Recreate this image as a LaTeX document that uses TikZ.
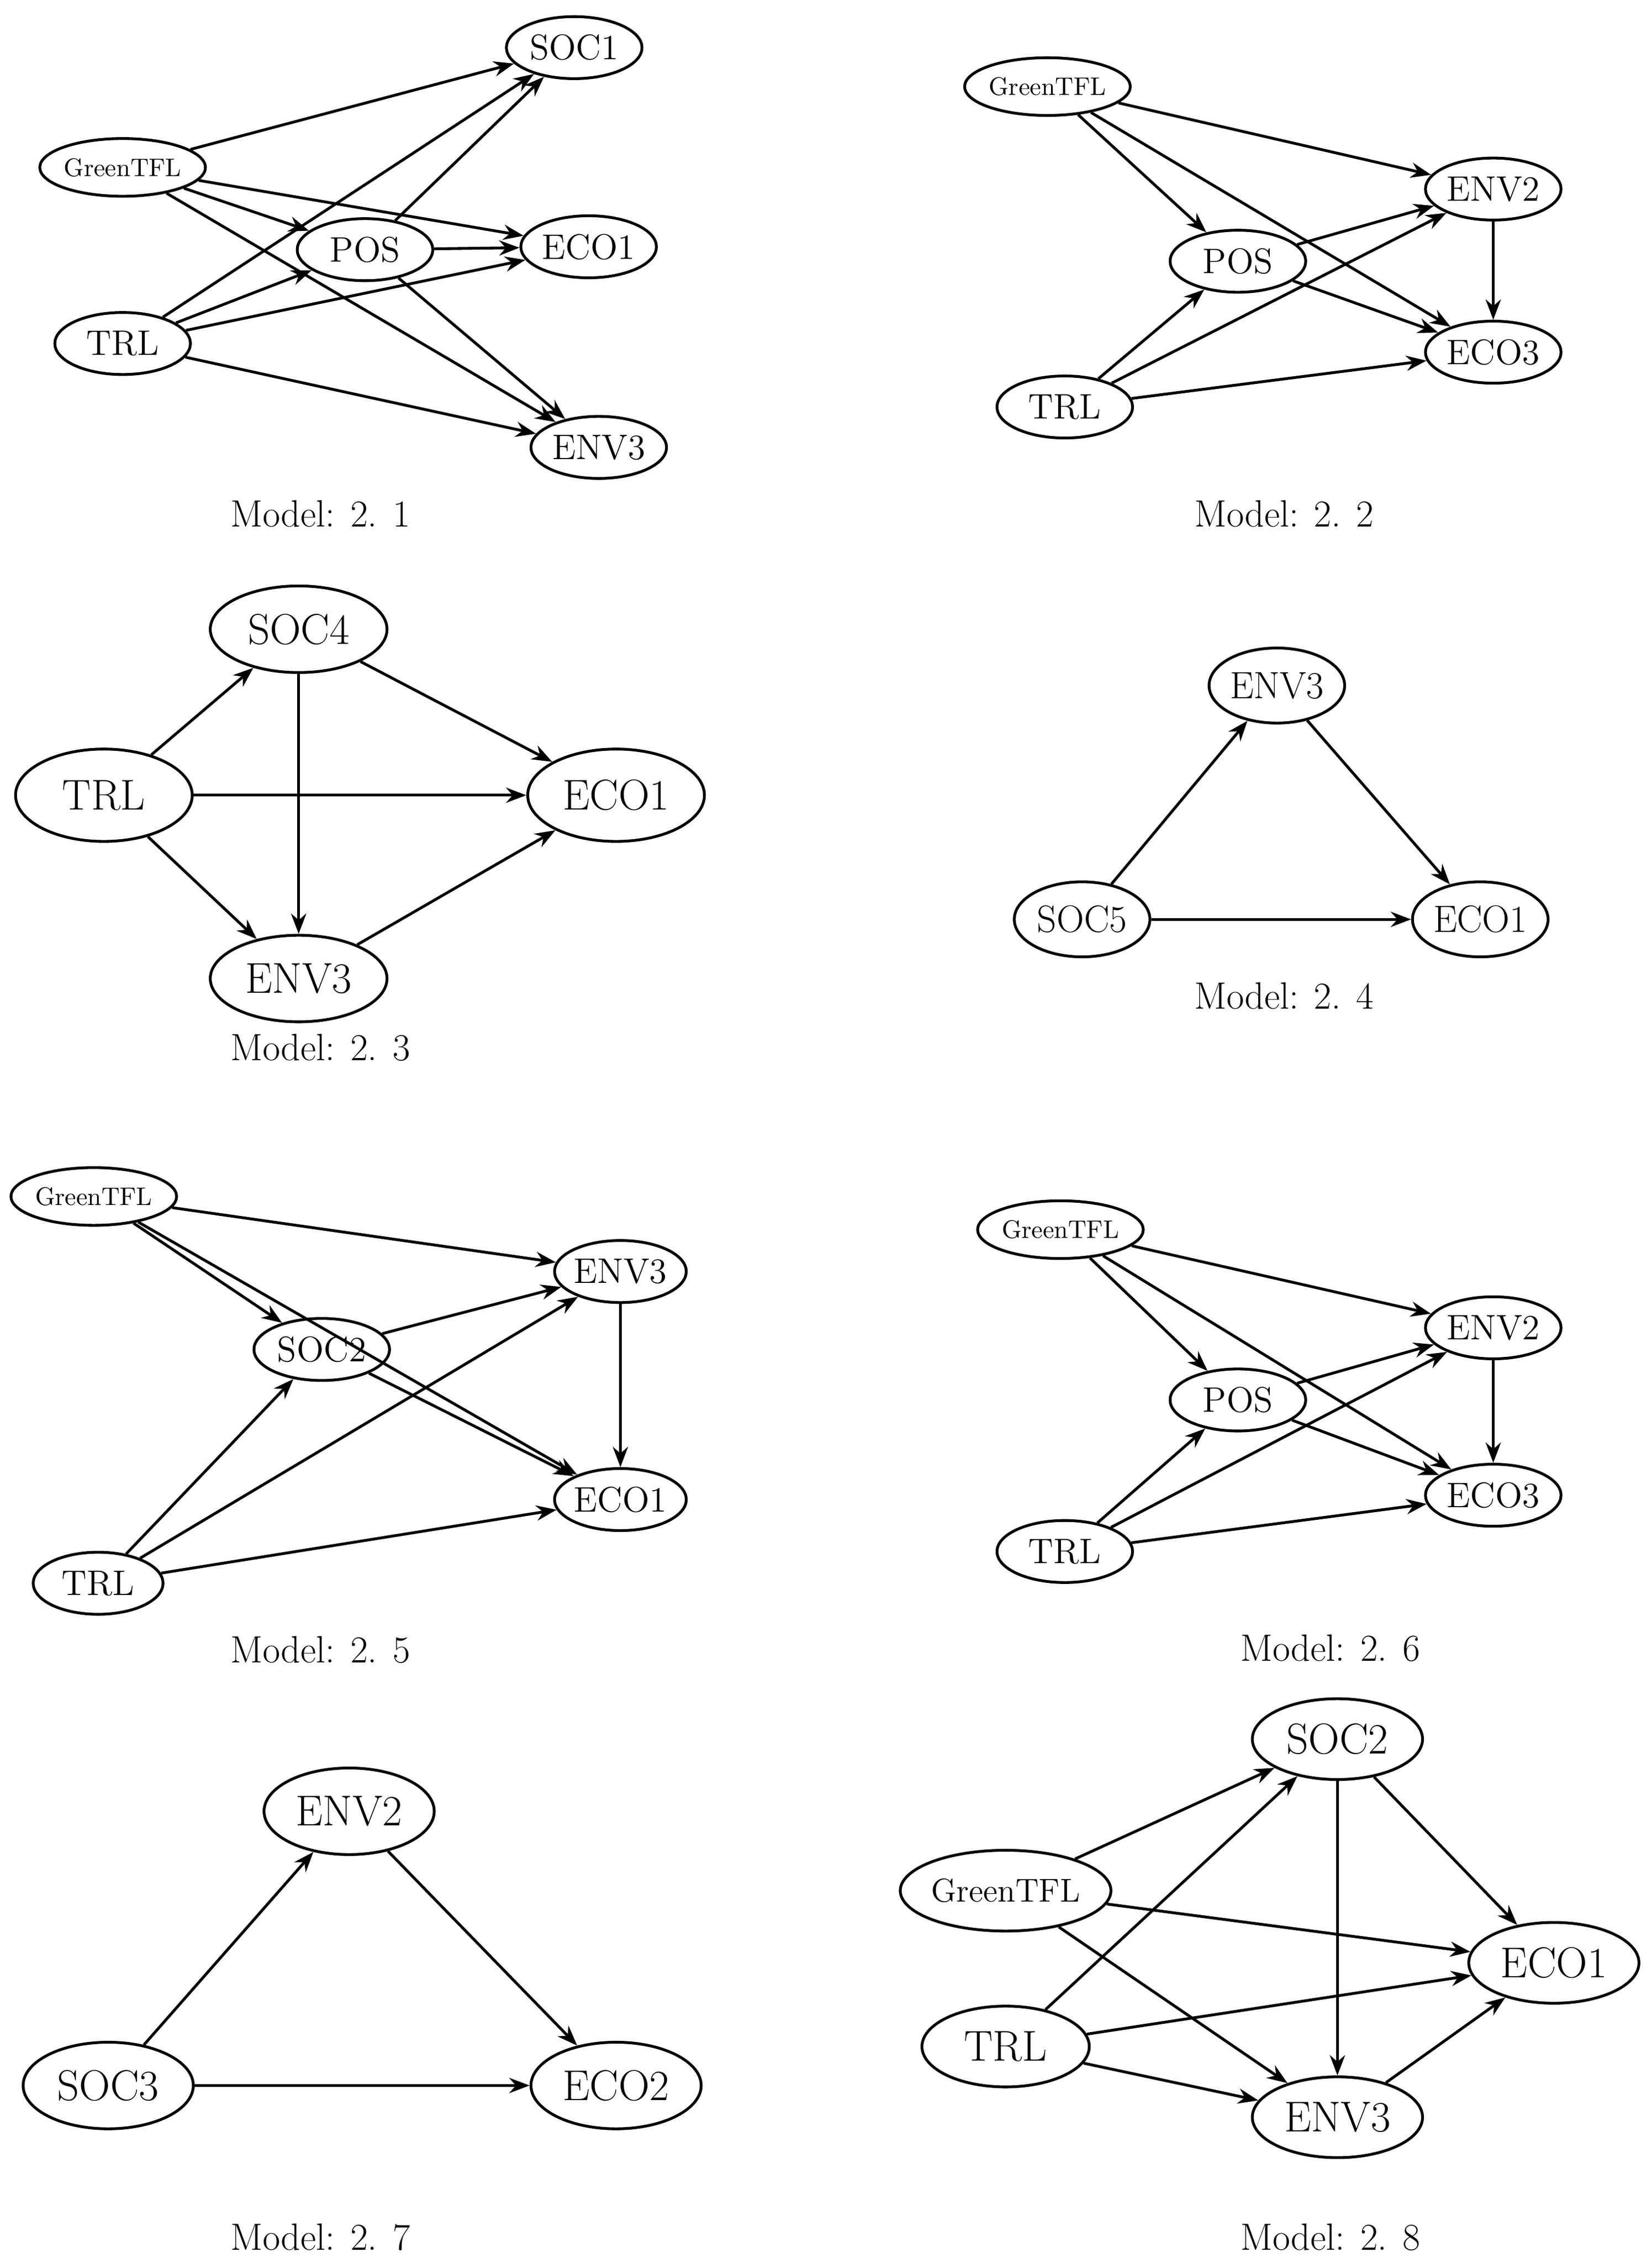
\documentclass[tikz,border=0pt]{standalone}
\usetikzlibrary{arrows.meta,shapes.geometric}
\begin{document}
\begin{tikzpicture}[
x=0.02cm,y=-0.02cm,
var/.style={ellipse,draw=black,line width=1.1pt,inner sep=0pt,minimum width=1.88cm,minimum height=0.86cm,font=\fontsize{14}{16}\selectfont},
green/.style={var,minimum width=1.8cm,minimum height=0.8cm,font=\fontsize{10}{12}\selectfont},
big/.style={var,minimum width=2.45cm,minimum height=1.2cm,font=\fontsize{17}{19}\selectfont},
caption/.style={font=\fontsize{15}{17}\selectfont},
path/.style={-{Stealth[length=8pt,width=6pt]},line width=1.1pt}
]
\useasboundingbox (0,0) rectangle (1145,1568);

% Model 2.1
\node [var] (soc1a) at (398,33) {SOC1};
\node [green] (grna) at (85,116) {GreenTFL};
\node [var] (posa) at (253,173) {POS};
\node [var] (eco1a) at (408,171) {ECO1};
\node [var] (trla) at (85,238) {TRL};
\node [var] (env3a) at (415,310) {ENV3};
\node [caption] (capa) at (222,356) {Model: 2. 1};
\foreach \s/\t in {grna/soc1a,grna/eco1a,grna/posa,grna/env3a,trla/soc1a,trla/posa,trla/eco1a,trla/env3a,posa/soc1a,posa/eco1a,posa/env3a}
  \draw [path] (\s) -- (\t);

% Model 2.2
\node [green] (grnb) at (726,60) {GreenTFL};
\node [var] (env2b) at (1035,131) {ENV2};
\node [var] (posb) at (858,181) {POS};
\node [var] (eco3b) at (1035,244) {ECO3};
\node [var] (trlb) at (738,282) {TRL};
\node [caption] (capb) at (890,356) {Model: 2. 2};
\foreach \s/\t in {grnb/env2b,grnb/eco3b,grnb/posb,posb/env2b,posb/eco3b,trlb/posb,trlb/env2b,trlb/eco3b,env2b/eco3b}
  \draw [path] (\s) -- (\t);

% Model 2.3
\node [big] (soc4c) at (207,436) {SOC4};
\node [big,minimum height=1.28cm] (trlc) at (72,551) {TRL};
\node [big,minimum height=1.28cm] (eco1c) at (427,551) {ECO1};
\node [big] (env3c) at (207,678) {ENV3};
\node [caption] (capc) at (222,726) {Model: 2. 3};
\foreach \s/\t in {trlc/soc4c,trlc/eco1c,trlc/env3c,soc4c/eco1c,soc4c/env3c,env3c/eco1c}
  \draw [path] (\s) -- (\t);

% Model 2.4
\node [var,minimum height=1.04cm,font=\fontsize{15}{17}\selectfont] (env3d) at (885,475) {ENV3};
\node [var,minimum height=1.04cm,font=\fontsize{15}{17}\selectfont] (soc5d) at (750,637) {SOC5};
\node [var,minimum height=1.04cm,font=\fontsize{15}{17}\selectfont] (eco1d) at (1026,637) {ECO1};
\node [caption] (capd) at (890,690) {Model: 2. 4};
\foreach \s/\t in {soc5d/env3d,env3d/eco1d,soc5d/eco1d}
  \draw [path] (\s) -- (\t);

% Model 2.5
\node [green] (grne) at (65,829) {GreenTFL};
\node [var,minimum width=1.8cm] (env3e) at (430,881) {ENV3};
\node [var] (soc2e) at (223,935) {SOC2};
\node [var,minimum width=1.8cm] (eco1e) at (430,1039) {ECO1};
\node [var,minimum width=1.8cm] (trle) at (68,1097) {TRL};
\node [caption] (cape) at (222,1143) {Model: 2. 5};
\foreach \s/\t in {grne/env3e,grne/soc2e,grne/eco1e,soc2e/env3e,soc2e/eco1e,trle/soc2e,trle/env3e,trle/eco1e,env3e/eco1e}
  \draw [path] (\s) -- (\t);

% Model 2.6
\node [green] (grnf) at (735,852) {GreenTFL};
\node [var] (env2f) at (1035,920) {ENV2};
\node [var] (posf) at (858,970) {POS};
\node [var] (eco3f) at (1035,1036) {ECO3};
\node [var] (trlf) at (738,1075) {TRL};
\node [caption] (capf) at (922,1142) {Model: 2. 6};
\foreach \s/\t in {grnf/env2f,grnf/eco3f,grnf/posf,posf/env2f,posf/eco3f,trlf/posf,trlf/env2f,trlf/eco3f,env2f/eco3f}
  \draw [path] (\s) -- (\t);

% Model 2.7
\node [big,minimum width=2.36cm] (env2g) at (242,1255) {ENV2};
\node [big,minimum width=2.36cm] (soc3g) at (75,1445) {SOC3};
\node [big,minimum width=2.36cm] (eco2g) at (427,1445) {ECO2};
\node [caption] (capg) at (222,1550) {Model: 2. 7};
\foreach \s/\t in {soc3g/env2g,env2g/eco2g,soc3g/eco2g}
  \draw [path] (\s) -- (\t);

% Model 2.8
\node [big,minimum width=2.36cm,minimum height=1.12cm] (soc2h) at (927,1205) {SOC2};
\node [big,minimum width=2.32cm,minimum height=1.12cm,font=\fontsize{13}{15}\selectfont] (grnh) at (697,1310) {GreenTFL};
\node [big,minimum width=2.36cm,minimum height=1.12cm] (eco1h) at (1077,1360) {ECO1};
\node [big,minimum width=2.32cm,minimum height=1.12cm] (trlh) at (697,1418) {TRL};
\node [big,minimum width=2.36cm,minimum height=1.12cm] (env3h) at (927,1467) {ENV3};
\node [caption] (caph) at (922,1550) {Model: 2. 8};
\foreach \s/\t in {grnh/soc2h,grnh/eco1h,grnh/env3h,trlh/soc2h,trlh/eco1h,trlh/env3h,soc2h/eco1h,soc2h/env3h,env3h/eco1h}
  \draw [path] (\s) -- (\t);
\end{tikzpicture}
\end{document}
